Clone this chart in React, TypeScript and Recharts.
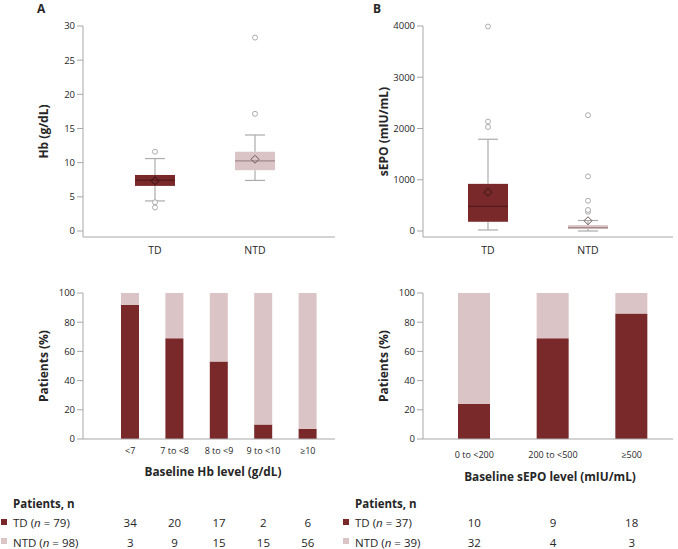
import React from 'react';
import { ComposedChart, BarChart, Bar, XAxis, YAxis } from 'recharts';

// ---------- data ----------
const groups = ['TD', 'NTD'];

// Panel A (top): Hb (g/dL) box plot
const hbWhiskerLow = [4.4, 7.4];
const hbQ1 = [6.6, 8.9];
const hbMedian = [7.45, 10.25];
const hbQ3 = [8.2, 11.6];
const hbWhiskerHigh = [10.6, 14.05];
const hbMean = [7.35, 10.5];
const hbOutliers = [[11.6, 4.2, 3.45], [17.15, 28.3]];
const hbTicks = [0, 5, 10, 15, 20, 25, 30];

// Panel B (top): sEPO (mIU/mL) box plot
const epoWhiskerLow = [20, 0];
const epoQ1 = [180, 38];
const epoMedian = [480, 65];
const epoQ3 = [920, 115];
const epoWhiskerHigh = [1790, 205];
const epoMean = [755, 200];
const epoOutliers = [[2030, 2135, 3990], [375, 410, 590, 1065, 2260]];
const epoTicks = [0, 1000, 2000, 3000, 4000];

// Panel A (bottom): baseline Hb level
const hbLevels = ['<7', '7 to <8', '8 to <9', '9 to <10', '≥10'];
const hbTdPct = [92, 69, 53, 10, 7];
const hbNtdPct = [8, 31, 47, 90, 93];
const hbTdCounts = [34, 20, 17, 2, 6];
const hbNtdCounts = [3, 9, 15, 15, 56];

// Panel B (bottom): baseline sEPO level
const epoLevels = ['0 to <200', '200 to <500', '≥500'];
const epoTdPct = [24, 69, 86];
const epoNtdPct = [76, 31, 14];
const epoTdCounts = [10, 9, 18];
const epoNtdCounts = [32, 4, 3];

const pctTicks = [0, 20, 40, 60, 80, 100];

// ---------- style ----------
const FONT = "'Open Sans', 'Noto Sans', sans-serif";
const TD_COLOR = '#7a292b';
const NTD_COLOR = '#dbc4c5';
const AXIS_COLOR = '#a8a8a8';
const WHISKER = '#ababab';
const TEXT = '#262626';

const buildBox = (
  low: number[], q1: number[], med: number[], q3: number[], high: number[], mean: number[], out: number[][]
) =>
  groups.map((name, i) => ({
    name,
    range: [low[i], high[i]],
    low: low[i],
    q1: q1[i],
    median: med[i],
    q3: q3[i],
    high: high[i],
    mean: mean[i],
    outliers: out[i],
  }));

const hbBoxData = buildBox(hbWhiskerLow, hbQ1, hbMedian, hbQ3, hbWhiskerHigh, hbMean, hbOutliers);
const epoBoxData = buildBox(epoWhiskerLow, epoQ1, epoMedian, epoQ3, epoWhiskerHigh, epoMean, epoOutliers);

const hbBarData = hbLevels.map((name, i) => ({ name, td: hbTdPct[i], ntd: hbNtdPct[i] }));
const epoBarData = epoLevels.map((name, i) => ({ name, td: epoTdPct[i], ntd: epoNtdPct[i] }));

// ---------- box shape (pixel mapping derived from the bar's scaled range) ----------
const BoxShape = (props: any) => {
  const { x, y, width, height, payload } = props;
  if (x == null || y == null || !payload) return null;
  const top = Math.min(y, y + height);
  const bottom = Math.max(y, y + height);
  const lo = payload.low;
  const hi = payload.high;
  const py = (v: number) => bottom - ((v - lo) * (bottom - top)) / (hi - lo);
  const cx = x + width / 2;
  const isTD = payload.name === 'TD';
  const fill = isTD ? TD_COLOR : NTD_COLOR;
  const medColor = isTD ? '#551a1b' : '#a38a8b';
  const diaColor = isTD ? '#2e1414' : '#6f5a5b';
  const cap = 10;
  const d = 4;
  const my = py(payload.mean);
  return (
    <g>
      <line x1={cx} x2={cx} y1={py(hi)} y2={py(payload.q3)} stroke={WHISKER} strokeWidth={1.2} />
      <line x1={cx} x2={cx} y1={py(payload.q1)} y2={py(lo)} stroke={WHISKER} strokeWidth={1.2} />
      <line x1={cx - cap} x2={cx + cap} y1={py(hi)} y2={py(hi)} stroke={WHISKER} strokeWidth={1.2} />
      <line x1={cx - cap} x2={cx + cap} y1={py(lo)} y2={py(lo)} stroke={WHISKER} strokeWidth={1.2} />
      <rect
        x={x}
        y={py(payload.q3)}
        width={width}
        height={Math.max(1, py(payload.q1) - py(payload.q3))}
        fill={fill}
      />
      <line x1={x} x2={x + width} y1={py(payload.median)} y2={py(payload.median)} stroke={medColor} strokeWidth={1.2} />
      <polygon
        points={`${cx},${my - d} ${cx + d},${my} ${cx},${my + d} ${cx - d},${my}`}
        fill="none"
        stroke={diaColor}
        strokeWidth={1}
      />
      {payload.outliers.map((o: number, k: number) => (
        <circle key={k} cx={cx} cy={py(o)} r={2.5} fill="#fff" stroke="#a3a3a3" strokeWidth={0.9} />
      ))}
    </g>
  );
};

const yLabel = (text: string, xPos: number, fallbackCy: number) => (p: any) => {
  const vb = p && p.viewBox;
  const cy = vb && typeof vb.y === 'number' && typeof vb.height === 'number' ? vb.y + vb.height / 2 : fallbackCy;
  return (
    <text
      x={xPos}
      y={cy}
      transform={`rotate(-90, ${xPos}, ${cy})`}
      textAnchor="middle"
      dominantBaseline="central"
      fontFamily={FONT}
      fontSize={12}
      fontWeight={700}
      fill={TEXT}
    >
      {text}
    </text>
  );
};

const xTitle = (text: string, dx: number, dy: number) => (p: any) => {
  const vb = (p && p.viewBox) || { x: 83, y: 169, width: 252, height: 30 };
  const cx = vb.x + vb.width / 2 + dx;
  return (
    <text x={cx} y={vb.y + dy} textAnchor="middle" fontFamily={FONT} fontSize={11.8} fontWeight={700} fill={TEXT}>
      {text}
    </text>
  );
};

const groupTick = (p: any) => {
  const { x, y, payload } = p;
  return (
    <text x={x} y={y + 17} textAnchor="middle" fontFamily={FONT} fontSize={10.5} fill={TEXT}>
      {payload.value}
    </text>
  );
};

const tableTick = (cats: string[], tdCounts: number[], ntdCounts: number[], labelDy: number) => (p: any) => {
  const { x, y, payload } = p;
  const i = cats.indexOf(payload.value);
  return (
    <g>
      <text x={x} y={y + labelDy} textAnchor="middle" fontFamily={FONT} fontSize={9} fill={TEXT}>
        {payload.value}
      </text>
      <text x={x} y={y + 87.5} textAnchor="middle" fontFamily={FONT} fontSize={11.5} fill={TEXT}>
        {tdCounts[i]}
      </text>
      <text x={x} y={y + 107.5} textAnchor="middle" fontFamily={FONT} fontSize={11.5} fill={TEXT}>
        {ntdCounts[i]}
      </text>
    </g>
  );
};

const yTick = { fontSize: 9.5, fill: TEXT, fontFamily: FONT };

const BoxPanel = ({ data, domain, ticks, label, padL, padR, width }: any) => (
  <ComposedChart width={width} height={260} data={data} margin={{ top: 26, right: 5, bottom: 3, left: 0 }}>
    <XAxis
      dataKey="name"
      type="category"
      height={20}
      padding={{ left: padL, right: padR }}
      axisLine={{ stroke: AXIS_COLOR }}
      tickLine={false}
      tickSize={0}
      tickMargin={0}
      interval={0}
      tick={groupTick}
    />
    <YAxis
      type="number"
      width={83}
      domain={domain}
      ticks={ticks}
      interval={0}
      padding={{ top: 0, bottom: 6 }}
      axisLine={{ stroke: AXIS_COLOR }}
      tickLine={{ stroke: AXIS_COLOR }}
      tickSize={6}
      tickMargin={2}
      tick={yTick}
      label={{ content: yLabel(label, 43, 131.5) }}
    />
    <Bar dataKey="range" barSize={40} shape={BoxShape} isAnimationActive={false} />
  </ComposedChart>
);

const StackPanel = ({ data, cats, tdCounts, ntdCounts, title, padL, padR, width, barSize, labelDy, titleDx, titleDy }: any) => (
  <BarChart width={width} height={279} data={data} margin={{ top: 23, right: 5, bottom: 80, left: 0 }}>
    <XAxis
      dataKey="name"
      type="category"
      height={30}
      padding={{ left: padL, right: padR }}
      axisLine={{ stroke: AXIS_COLOR }}
      tickLine={false}
      tickSize={0}
      tickMargin={0}
      interval={0}
      tick={tableTick(cats, tdCounts, ntdCounts, labelDy)}
      label={{ content: xTitle(title, titleDx, titleDy) }}
    />
    <YAxis
      type="number"
      width={83}
      domain={[0, 100]}
      ticks={pctTicks}
      interval={0}
      axisLine={{ stroke: AXIS_COLOR }}
      tickLine={{ stroke: AXIS_COLOR }}
      tickSize={6}
      tickMargin={2}
      tick={yTick}
      label={{ content: yLabel('Patients (%)', 43, 96) }}
    />
    <Bar dataKey="td" stackId="s" fill={TD_COLOR} barSize={barSize} isAnimationActive={false} />
    <Bar dataKey="ntd" stackId="s" fill={NTD_COLOR} barSize={barSize} isAnimationActive={false} />
  </BarChart>
);

const TableLabels = ({ x0, tdN, ntdN }: any) => (
  <g fontFamily={FONT} fill={TEXT}>
    <text x={x0 + 13} y={508} fontSize={11.5} fontWeight={700}>
      Patients, n
    </text>
    <rect x={x0 + 1} y={519} width={6} height={6} fill={TD_COLOR} />
    <text x={x0 + 13} y={526.5} fontSize={11.5}>
      TD (<tspan fontStyle="italic">n</tspan> = {tdN})
    </text>
    <rect x={x0 + 1} y={538} width={6} height={6} fill={NTD_COLOR} />
    <text x={x0 + 13} y={546.5} fontSize={11.5}>
      NTD (<tspan fontStyle="italic">n</tspan> = {ntdN})
    </text>
  </g>
);

export default function App() {
  return (
    <div style={{ position: 'absolute', left: 0, top: 0, width: 678, height: 549, background: '#fff', overflow: 'hidden' }}>
      <div style={{ position: 'absolute', left: 0, top: 0 }}>
        <BoxPanel data={hbBoxData} domain={[0, 30]} ticks={hbTicks} label="Hb (g/dL)" padL={22} padR={30} width={340} />
      </div>
      <div style={{ position: 'absolute', left: 340, top: 0 }}>
        <BoxPanel data={epoBoxData} domain={[0, 4000]} ticks={epoTicks} label="sEPO (mIU/mL)" padL={15} padR={35} width={338} />
      </div>
      <div style={{ position: 'absolute', left: 0, top: 270 }}>
        <StackPanel
          data={hbBarData}
          cats={hbLevels}
          tdCounts={hbTdCounts}
          ntdCounts={hbNtdCounts}
          title="Baseline Hb level (g/dL)"
          padL={25}
          padR={5}
          width={340}
          barSize={18}
          labelDy={15.3}
          titleDx={4}
          titleDy={36.5}
        />
      </div>
      <div style={{ position: 'absolute', left: 340, top: 270 }}>
        <StackPanel
          data={epoBarData}
          cats={epoLevels}
          tdCounts={epoTdCounts}
          ntdCounts={epoNtdCounts}
          title="Baseline sEPO level (mIU/mL)"
          padL={12}
          padR={2}
          width={338}
          barSize={32}
          labelDy={18.5}
          titleDx={2}
          titleDy={42}
        />
      </div>
      <svg style={{ position: 'absolute', left: 0, top: 0, pointerEvents: 'none' }} width={678} height={549}>
        <text x={37} y={13} fontFamily={FONT} fontSize={12} fontWeight={700} fill={TEXT}>
          A
        </text>
        <text x={373} y={13} fontFamily={FONT} fontSize={12} fontWeight={700} fill={TEXT}>
          B
        </text>
        <TableLabels x0={0} tdN={79} ntdN={98} />
        <TableLabels x0={342} tdN={37} ntdN={39} />
      </svg>
    </div>
  );
}
